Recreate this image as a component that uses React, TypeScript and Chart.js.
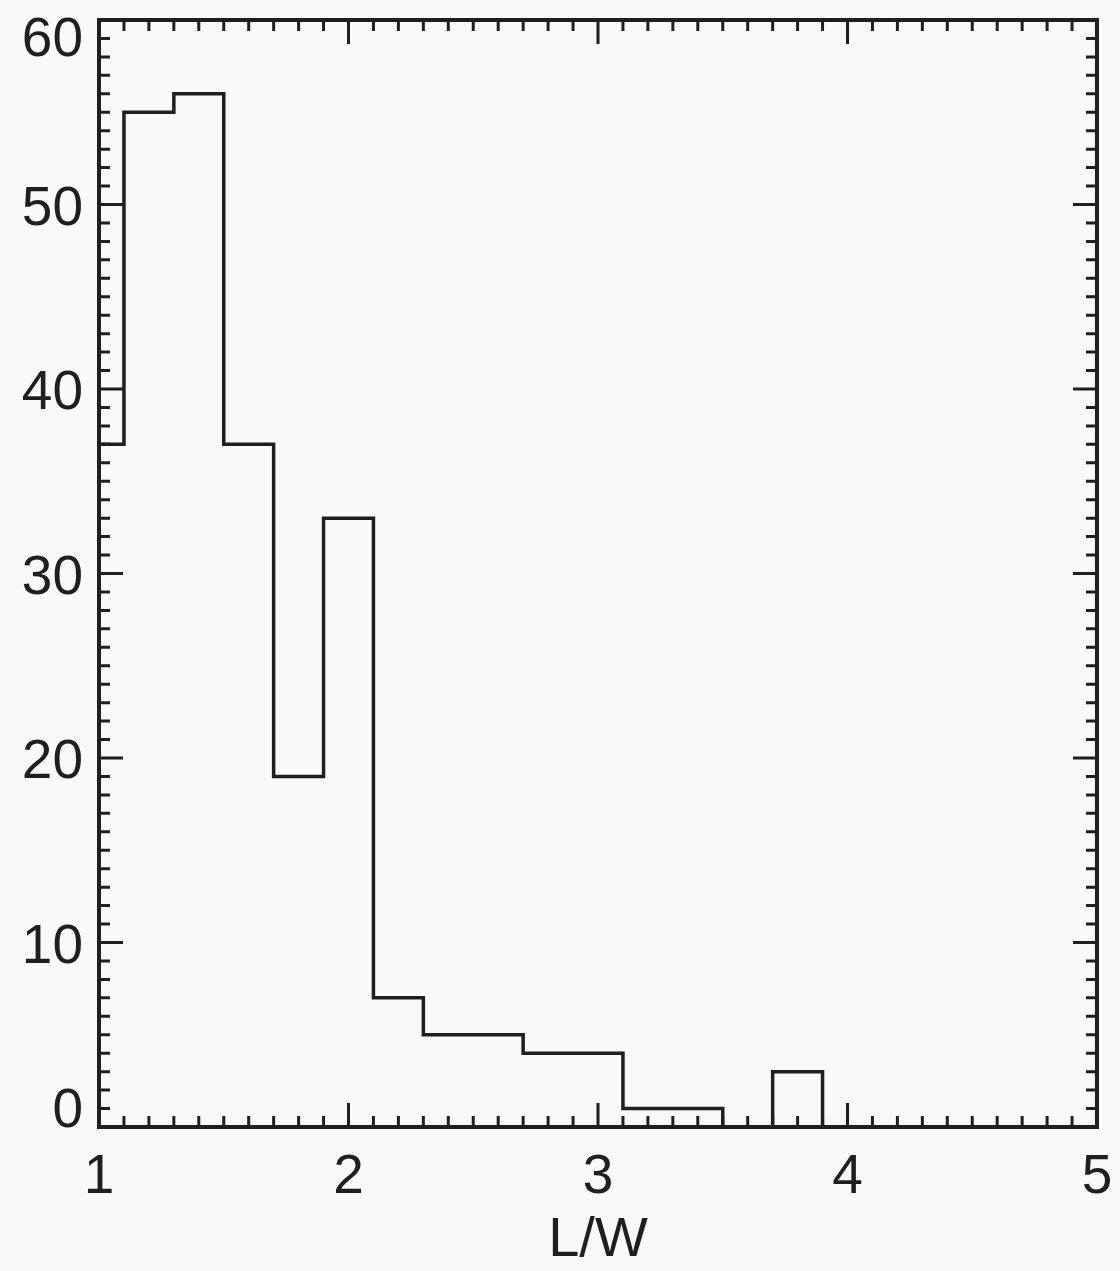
import React, { useEffect, useRef } from "react";
import { Chart, registerables } from "chart.js";

Chart.register(...registerables);

// Histogram of L/W: left edge of each step and its count
const binStarts = [1.0, 1.1, 1.3, 1.5, 1.7, 1.9, 2.1, 2.3, 2.5, 2.7, 2.9, 3.1, 3.3, 3.5, 3.7, 3.9, 4.1, 4.3, 4.5];
const counts = [37, 55, 56, 37, 19, 33, 7, 5, 5, 4, 4, 1, 1, 0, 3, 0, 0, 0, 0];
const xTickValues = [1, 2, 3, 4, 5];
const yTickValues = [0, 10, 20, 30, 40, 50, 60];
const xTitle = "L/W";

const INK = "#1f1f1f";
const FONT = "Liberation Sans, Arial, Helvetica, sans-serif";

const framePlugin = {
  id: "frameTicks",
  beforeDraw(chart: any) {
    const { ctx } = chart;
    ctx.save();
    ctx.fillStyle = "#f9f9f7";
    ctx.fillRect(0, 0, chart.width, chart.height);
    ctx.restore();
  },
  afterDraw(chart: any) {
    const { ctx, chartArea } = chart;
    const xs = chart.scales.x;
    const ys = chart.scales.y;
    const { left, right, top, bottom } = chartArea;
    ctx.save();
    ctx.strokeStyle = INK;
    ctx.lineCap = "butt";
    // inward ticks
    ctx.lineWidth = 3;
    const major = 24;
    const minor = 11;
    for (let i = 0; i <= 40; i++) {
      const v = 1 + i * 0.1;
      const px = xs.getPixelForValue(v);
      const len = i % 10 === 0 ? major : minor;
      ctx.beginPath();
      ctx.moveTo(px, bottom);
      ctx.lineTo(px, bottom - len);
      ctx.moveTo(px, top);
      ctx.lineTo(px, top + len);
      ctx.stroke();
    }
    for (let i = 0; i <= 60; i++) {
      const py = ys.getPixelForValue(i);
      const len = i % 10 === 0 ? major : minor;
      ctx.beginPath();
      ctx.moveTo(left, py);
      ctx.lineTo(left + len, py);
      ctx.moveTo(right, py);
      ctx.lineTo(right - len, py);
      ctx.stroke();
    }
    // frame
    ctx.lineWidth = 4;
    ctx.strokeRect(left, top, right - left, bottom - top);
    // y labels (inner-aligned at the ends)
    ctx.fillStyle = INK;
    ctx.font = `55px ${FONT}`;
    ctx.textAlign = "right";
    ctx.textBaseline = "alphabetic";
    const last = yTickValues.length - 1;
    yTickValues.forEach((v, i) => {
      const py = ys.getPixelForValue(v);
      let base = py + 20;
      if (i === 0) base = py;
      if (i === last) base = py + 36;
      ctx.fillText(String(v), left - 16, base);
    });
    ctx.restore();
  },
};

export default function App() {
  const ref = useRef<HTMLCanvasElement | null>(null);
  useEffect(() => {
    if (!ref.current) return;
    const data = binStarts.map((x, i) => ({ x, y: counts[i] }));
    const chart = new Chart(ref.current, {
      type: "line",
      data: {
        datasets: [
          {
            data,
            stepped: "before",
            borderColor: INK,
            borderWidth: 3.5,
            pointRadius: 0,
            fill: false,
          },
        ],
      },
      options: {
        animation: false,
        responsive: false,
        maintainAspectRatio: false,
        events: [],
        layout: { padding: { top: 20, right: 23, left: 0, bottom: 0 } },
        plugins: { legend: { display: false }, tooltip: { enabled: false } },
        scales: {
          x: {
            type: "linear",
            min: 1,
            max: 5,
            afterBuildTicks: (s: any) => {
              s.ticks = xTickValues.map((v) => ({ value: v }));
            },
            afterFit: (s: any) => {
              s.height = 144;
              s.paddingLeft = 0;
              s.paddingRight = 0;
            },
            grid: { display: false, drawTicks: false },
            border: { display: false },
            ticks: {
              color: INK,
              font: { family: FONT, size: 55 },
              padding: 18,
              maxRotation: 0,
              autoSkip: false,
            },
            title: {
              display: true,
              text: xTitle,
              color: INK,
              font: { family: FONT, size: 56 },
              padding: { top: 0, bottom: -3 },
            },
          },
          y: {
            type: "linear",
            min: 0,
            max: 60,
            afterBuildTicks: (s: any) => {
              s.ticks = yTickValues.map((v) => ({ value: v }));
            },
            afterFit: (s: any) => {
              s.width = 99;
              s.paddingTop = 0;
              s.paddingBottom = 0;
            },
            grid: { display: false, drawTicks: false },
            border: { display: false },
            ticks: { display: false },
          },
        },
      },
      plugins: [framePlugin],
    } as any);
    return () => chart.destroy();
  }, []);
  return (
    <div style={{ position: "fixed", left: 0, top: 0, width: 1120, height: 1271 }}>
      <canvas ref={ref} width={1120} height={1271} style={{ display: "block", width: 1120, height: 1271 }} />
    </div>
  );
}
